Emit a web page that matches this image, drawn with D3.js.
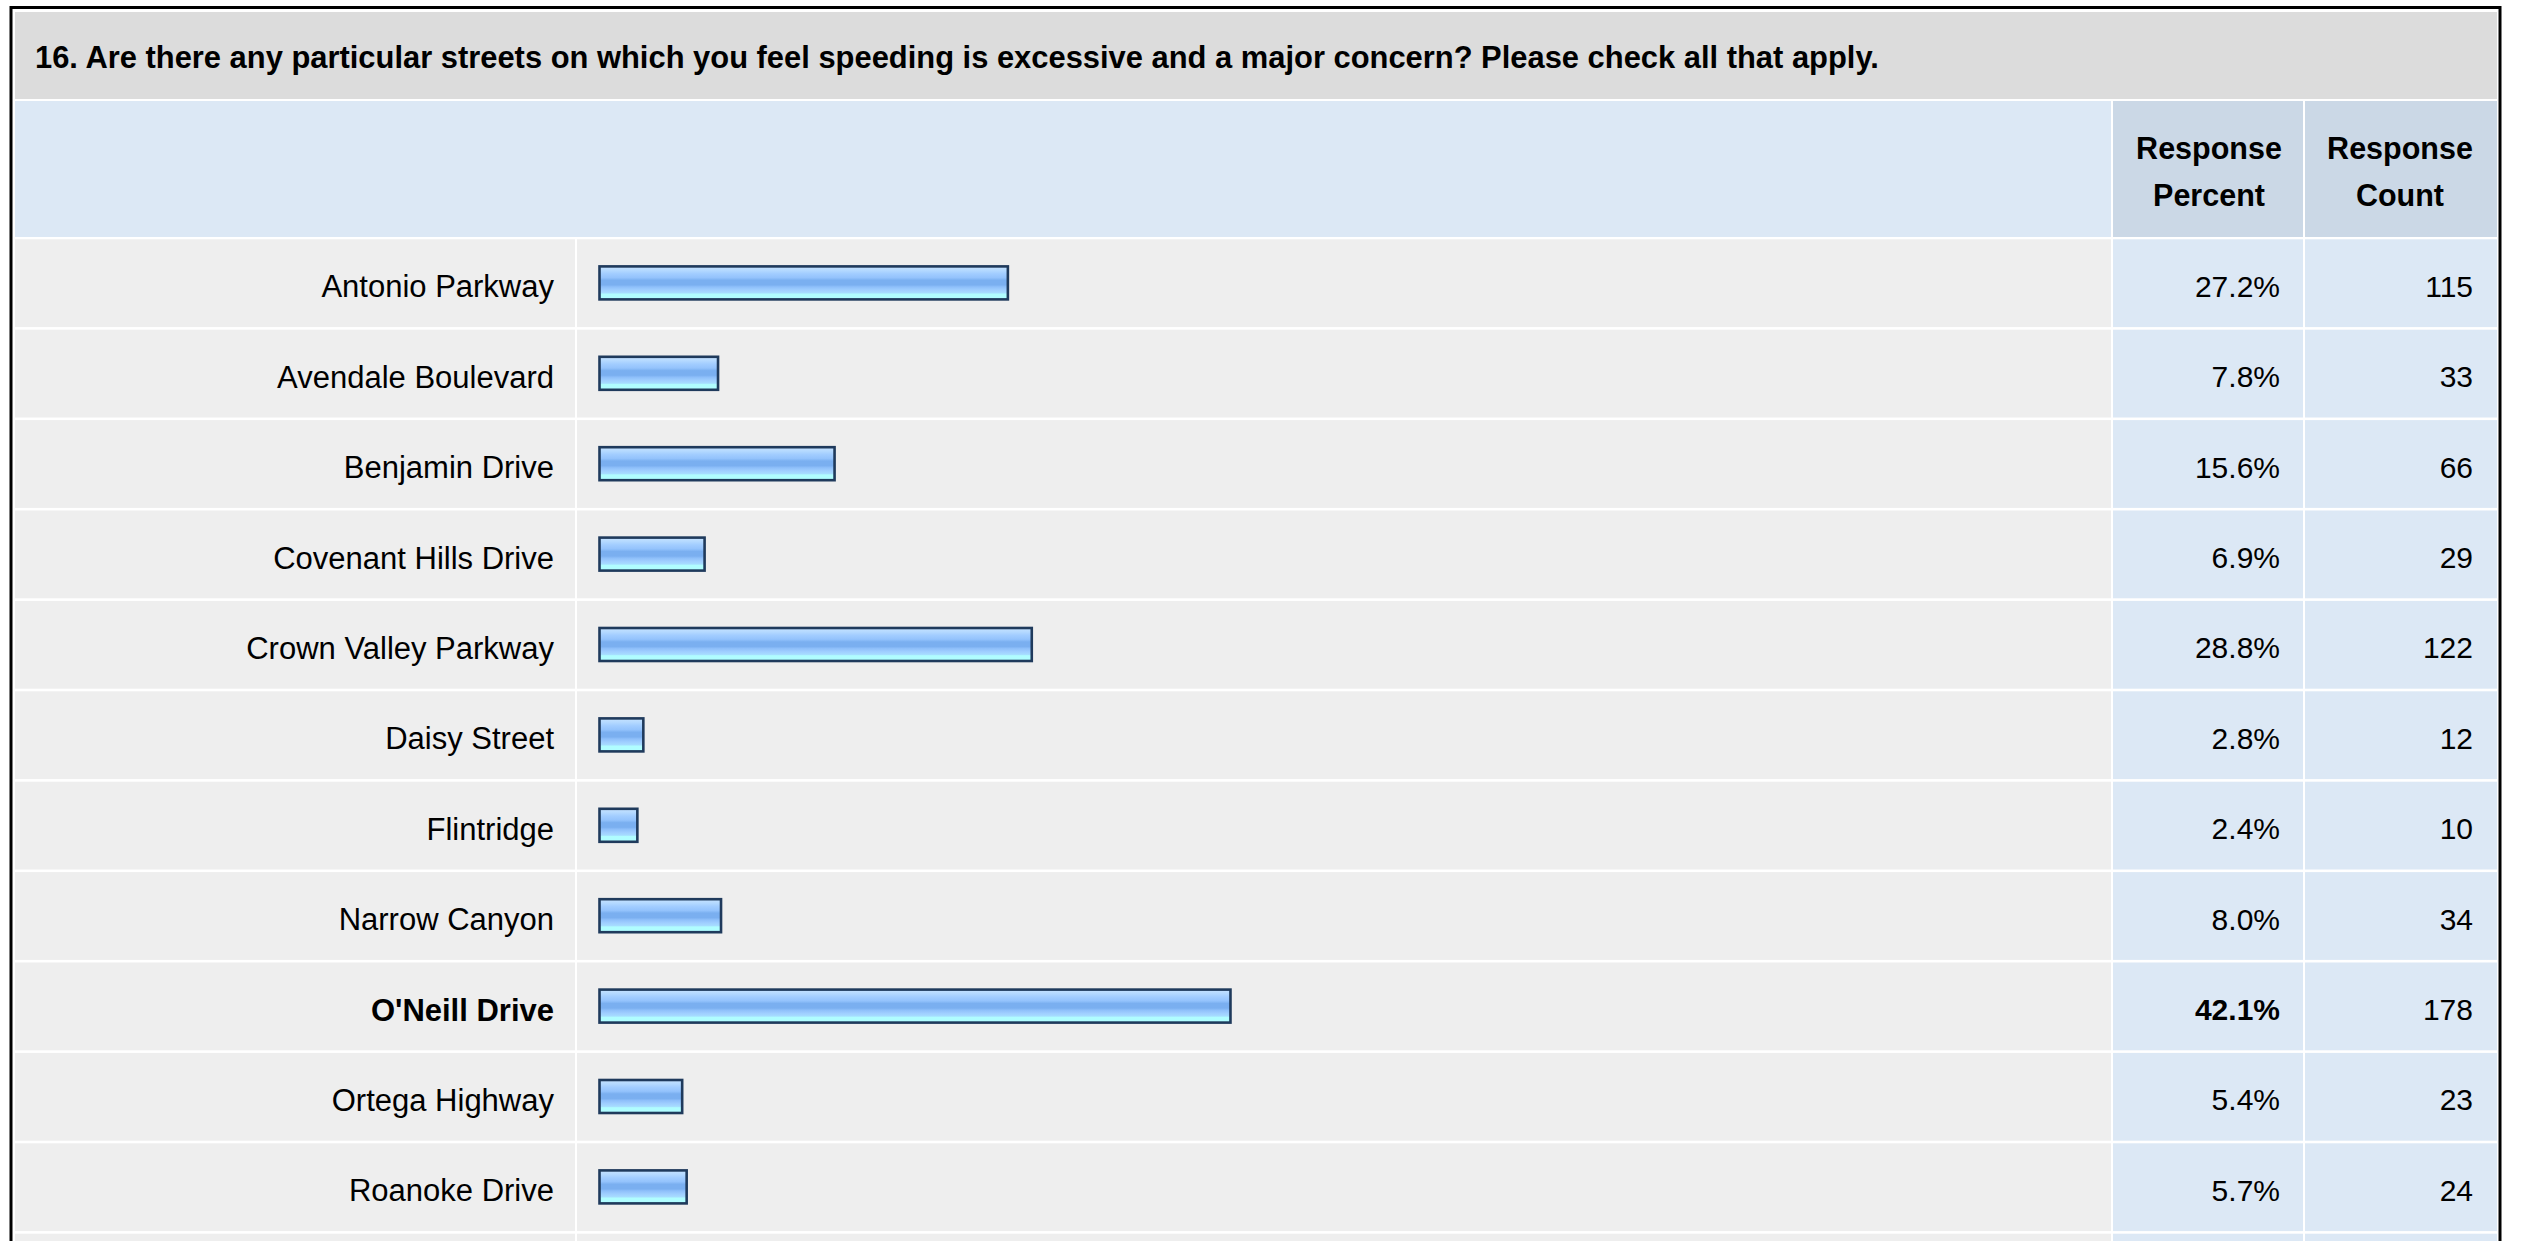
<!DOCTYPE html>
<html>
<head>
<meta charset="utf-8">
<script src="https://cdn.jsdelivr.net/npm/d3@7"></script>
<style>
  html, body { margin: 0; padding: 0; background: #ffffff; }
  svg { display: block; font-family: "Liberation Sans", Arial, Helvetica, sans-serif; }
</style>
</head>
<body>
<svg id="chart" width="2525" height="1241"></svg>
<script>
// Survey question 16: streets where speeding is a concern
const question = "16. Are there any particular streets on which you feel speeding is excessive and a major concern? Please check all that apply.";
const streets = [
  "Antonio Parkway", "Avendale Boulevard", "Benjamin Drive", "Covenant Hills Drive",
  "Crown Valley Parkway", "Daisy Street", "Flintridge", "Narrow Canyon",
  "O'Neill Drive", "Ortega Highway", "Roanoke Drive"
];
const responsePercent = [27.2, 7.8, 15.6, 6.9, 28.8, 2.8, 2.4, 8.0, 42.1, 5.4, 5.7];
const responseCount = [115, 33, 66, 29, 122, 12, 10, 34, 178, 23, 24];
const columnHeaders = [["Response", "Percent"], ["Response", "Count"]];

const rows = streets.map((s, i) => ({ name: s, pct: responsePercent[i], count: responseCount[i] }));
const maxPct = d3.max(responsePercent);

const svg = d3.select("#chart");

// table geometry
const L = 15, R = 2497;
const labelColEnd = 575, barColStart = 577, barColEnd = 2111;
const pctCol = [2113, 2303], cntCol = [2305, 2497];
const titleTop = 12, titleBottom = 99;
const headTop = 101, headBottom = 237;
const rowTop = 239.3, pitch = 90.4, sep = 2.6;

const y = d3.scaleBand()
  .domain(streets)
  .range([rowTop, rowTop + streets.length * pitch])
  .padding(0);
const x = d3.scaleLinear().domain([0, 100]).range([0, 1494]);

// bar fill: horizontal glossy stripes
const defs = svg.append("defs");
const grad = defs.append("linearGradient")
  .attr("id", "barFill").attr("x1", 0).attr("y1", 0).attr("x2", 0).attr("y2", 1);
[
  [0, "#c6e3ff"], [0.12, "#b4d9ff"], [0.22, "#a2cdff"], [0.34, "#94c3fc"],
  [0.42, "#7aaff0"], [0.56, "#7aaff0"], [0.62, "#8ebffa"], [0.72, "#a0cfff"],
  [0.8, "#a6dcff"], [0.84, "#b0fdff"], [1, "#b0fdff"]
].forEach(([o, c]) => grad.append("stop").attr("offset", o).attr("stop-color", c));

// title band
svg.append("rect").attr("x", L).attr("y", titleTop).attr("width", R - L).attr("height", titleBottom - titleTop)
  .attr("fill", "#dcdcdc");
svg.append("text").attr("x", 35).attr("y", 68)
  .attr("font-size", 30.9).attr("font-weight", "bold").attr("fill", "#000")
  .text(question);

// header band
svg.append("rect").attr("x", L).attr("y", headTop).attr("width", barColEnd - L).attr("height", headBottom - headTop)
  .attr("fill", "#dce8f5");
[pctCol, cntCol].forEach((c, i) => {
  svg.append("rect").attr("x", c[0]).attr("y", headTop).attr("width", c[1] - c[0]).attr("height", headBottom - headTop)
    .attr("fill", "#cbd8e6");
  const cx = i === 0 ? 2209 : 2400;
  const t = svg.append("text").attr("text-anchor", "middle").attr("font-size", 30.5)
    .attr("font-weight", "bold").attr("fill", "#000");
  t.append("tspan").attr("x", cx).attr("y", 159).text(columnHeaders[i][0]);
  t.append("tspan").attr("x", cx).attr("y", 206).text(columnHeaders[i][1]);
});

// row backgrounds (including the start of the following row at the bottom edge)
const bgRows = d3.range(streets.length + 1).map(i => rowTop + i * pitch);
const bg = svg.append("g").selectAll("g").data(bgRows).join("g");
bg.append("rect").attr("x", L).attr("y", d => d).attr("width", labelColEnd - L).attr("height", pitch - sep).attr("fill", "#eeeeee");
bg.append("rect").attr("x", barColStart).attr("y", d => d).attr("width", barColEnd - barColStart).attr("height", pitch - sep).attr("fill", "#eeeeee");
bg.append("rect").attr("x", pctCol[0]).attr("y", d => d).attr("width", pctCol[1] - pctCol[0]).attr("height", pitch - sep).attr("fill", "#dce8f5");
bg.append("rect").attr("x", cntCol[0]).attr("y", d => d).attr("width", cntCol[1] - cntCol[0]).attr("height", pitch - sep).attr("fill", "#dce8f5");

// rows
const g = svg.append("g").selectAll("g").data(rows).join("g");
const isTop = d => d.pct === maxPct;

g.append("text")
  .attr("x", 554).attr("y", d => y(d.name) + 58)
  .attr("text-anchor", "end").attr("font-size", 31)
  .attr("font-weight", d => isTop(d) ? "bold" : "normal")
  .attr("fill", "#000").text(d => d.name);

const barH = 33;
g.append("rect")
  .attr("x", 599.5)
  .attr("y", d => y(d.name) + (pitch - sep) / 2 - barH / 2 - 0.3)
  .attr("width", d => x(d.pct) + 2)
  .attr("height", barH)
  .attr("fill", "url(#barFill)")
  .attr("stroke", "#1f3a5c").attr("stroke-width", 2.6);

g.append("text")
  .attr("x", 2280).attr("y", d => y(d.name) + 57.5)
  .attr("text-anchor", "end").attr("font-size", 30)
  .attr("font-weight", d => isTop(d) ? "bold" : "normal")
  .attr("fill", "#000").text(d => d3.format(".1f")(d.pct) + "%");

g.append("text")
  .attr("x", 2473).attr("y", d => y(d.name) + 57.5)
  .attr("text-anchor", "end").attr("font-size", 30)
  .attr("fill", "#000").text(d => d.count);

// outer frame
svg.append("rect").attr("x", 11).attr("y", 7.5).attr("width", 2489).attr("height", 1300)
  .attr("fill", "none").attr("stroke", "#000").attr("stroke-width", 3);
</script>
</body>
</html>
